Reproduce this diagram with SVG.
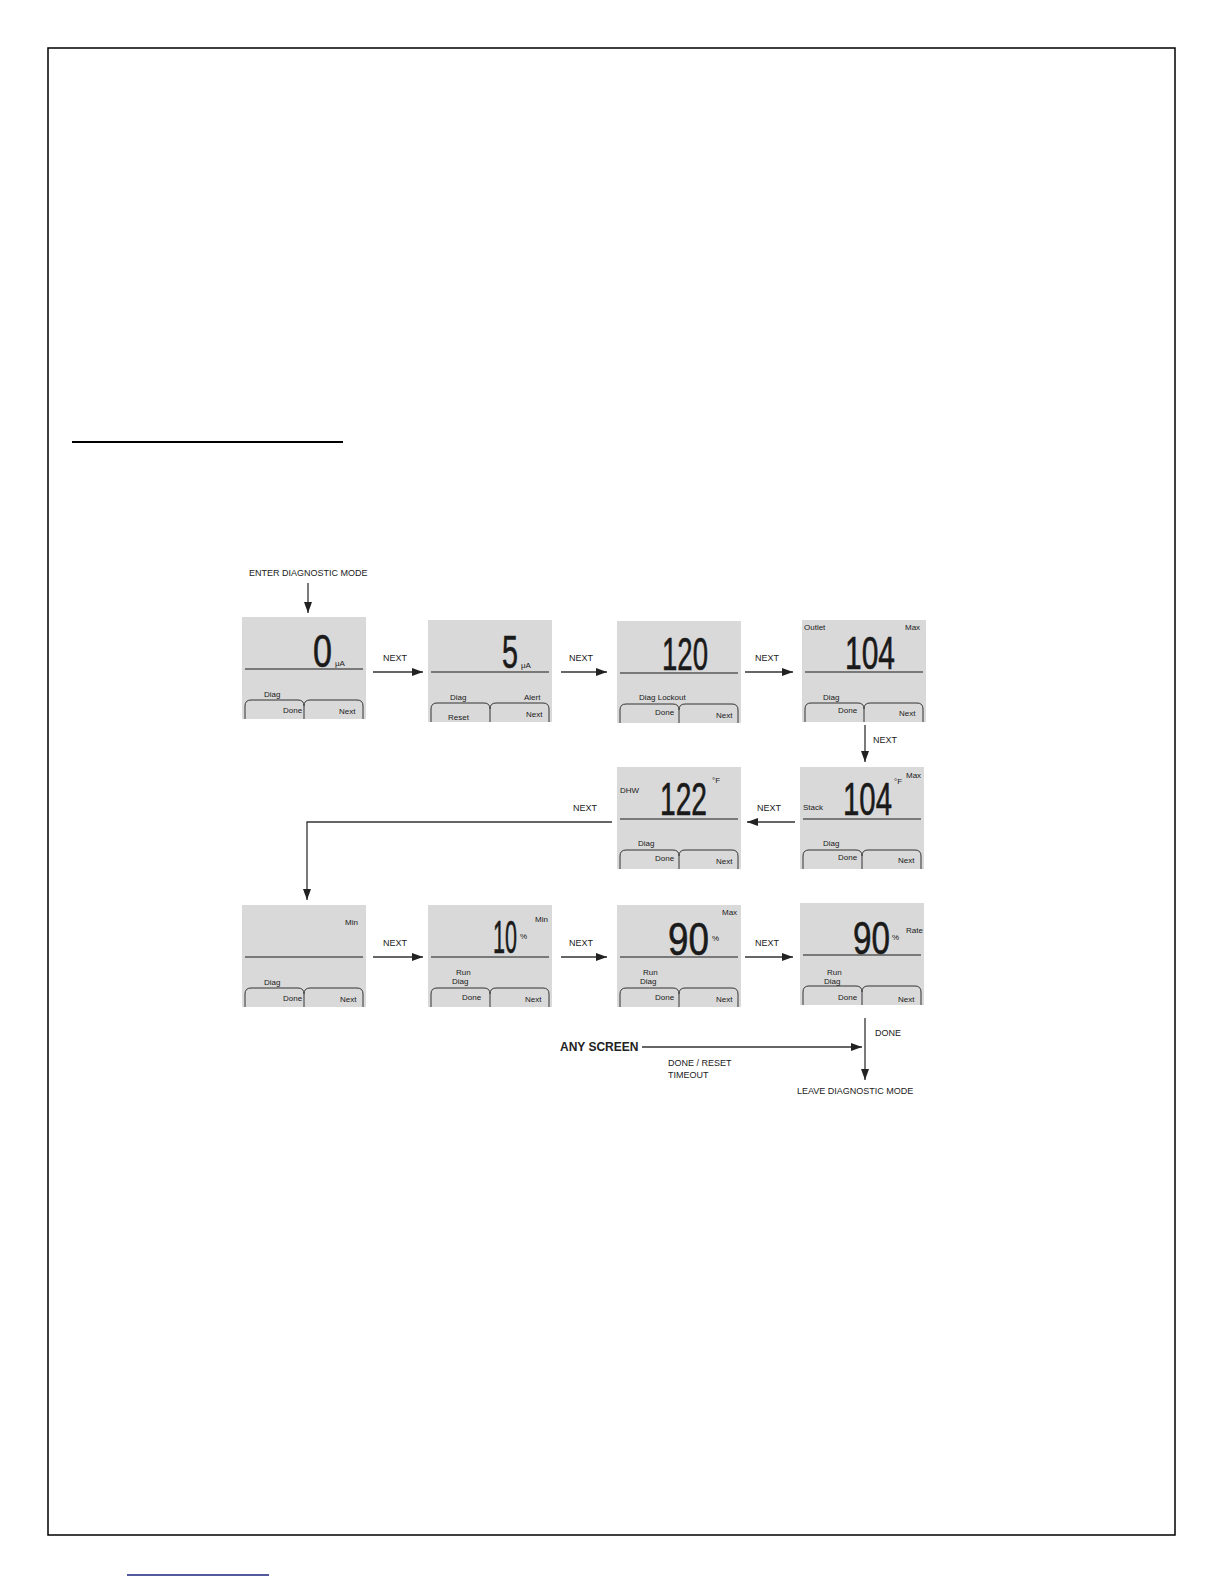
<svg xmlns="http://www.w3.org/2000/svg" xmlns:xlink="http://www.w3.org/1999/xlink" width="1224" height="1584" viewBox="0 0 1224 1584">
<style>
.bg{fill:#d9d9d9;stroke:none}
.sep{stroke:#1a1a1a;stroke-width:1.2;fill:none}
.btn{stroke:#333;stroke-width:1;fill:none}
.lbl{font-family:"Liberation Sans Narrow","Liberation Sans",Arial,sans-serif;font-size:8px;fill:#1a1a1a}
.dig{font-family:"Liberation Sans",Arial,sans-serif;font-size:46px;fill:#1a1a1a;stroke:#1a1a1a;stroke-width:0.6}
.nx{font-family:"Liberation Sans",Arial,sans-serif;font-size:9px;fill:#222}
.big{font-family:"Liberation Sans",Arial,sans-serif;font-size:12px;font-weight:bold;fill:#222}
.con{stroke:#333;stroke-width:1.3;fill:none}
</style>
<defs>
<marker id="ah" markerUnits="userSpaceOnUse" markerWidth="12" markerHeight="10" refX="11" refY="4" orient="auto">
<path d="M0,0 L11,4 L0,8 Z" fill="#222"/>
</marker>
<g id="base">
<rect class="bg" x="0" y="0" width="124" height="102"/>
<line class="sep" x1="3" y1="52" x2="121" y2="52"/>
<path class="btn" d="M3,102 V89 Q3,83 9,83 H56 Q62,83 62,89 Q62,83 68,83 H115 Q121,83 121,89 V102 M62,89 V102"/>
</g>
</defs>

<g id="page">
<rect x="48" y="48" width="1127" height="1487" fill="none" stroke="#000" stroke-width="1.5"/>
<line x1="72" y1="442" x2="343" y2="442" stroke="#000" stroke-width="2"/>
<line x1="127" y1="1575" x2="269" y2="1575" stroke="#1a237e" stroke-width="1.5"/>
</g>

<g id="connectors">
<line class="con" x1="308" y1="583" x2="308" y2="613" marker-end="url(#ah)"/>
<line class="con" x1="373" y1="672" x2="423" y2="672" marker-end="url(#ah)"/>
<line class="con" x1="561" y1="672" x2="607" y2="672" marker-end="url(#ah)"/>
<line class="con" x1="745" y1="672" x2="793" y2="672" marker-end="url(#ah)"/>
<line class="con" x1="865" y1="725" x2="865" y2="762" marker-end="url(#ah)"/>
<line class="con" x1="795" y1="822" x2="747" y2="822" marker-end="url(#ah)"/>
<polyline class="con" points="612,822 307,822 307,900" marker-end="url(#ah)"/>
<line class="con" x1="373" y1="957" x2="423" y2="957" marker-end="url(#ah)"/>
<line class="con" x1="561" y1="957" x2="607" y2="957" marker-end="url(#ah)"/>
<line class="con" x1="745" y1="957" x2="793" y2="957" marker-end="url(#ah)"/>
<line class="con" x1="642" y1="1047" x2="862" y2="1047" marker-end="url(#ah)"/>
<line class="con" x1="865" y1="1018" x2="865" y2="1080" marker-end="url(#ah)"/>
<text class="nx" x="249" y="576">ENTER DIAGNOSTIC MODE</text>
<text class="nx" x="383" y="661">NEXT</text>
<text class="nx" x="569" y="661">NEXT</text>
<text class="nx" x="755" y="661">NEXT</text>
<text class="nx" x="873" y="743">NEXT</text>
<text class="nx" x="757" y="811">NEXT</text>
<text class="nx" x="573" y="811">NEXT</text>
<text class="nx" x="383" y="946">NEXT</text>
<text class="nx" x="569" y="946">NEXT</text>
<text class="nx" x="755" y="946">NEXT</text>
<text class="big" x="560" y="1051">ANY SCREEN</text>
<text class="nx" x="875" y="1036">DONE</text>
<text class="nx" x="668" y="1066">DONE / RESET</text>
<text class="nx" x="668" y="1078">TIMEOUT</text>
<text class="nx" x="797" y="1094">LEAVE DIAGNOSTIC MODE</text>
</g>

<g id="screen1" transform="translate(242,617)">
<use xlink:href="#base"/>
<text class="dig" x="71" y="50" textLength="19" lengthAdjust="spacingAndGlyphs">0</text>
<text class="lbl" x="93" y="49" font-size="7">μA</text>
<text class="lbl" x="22" y="80">Diag</text>
<text class="lbl" x="41" y="96">Done</text>
<text class="lbl" x="97" y="97">Next</text>
</g>

<g id="screen2" transform="translate(428,620)">
<use xlink:href="#base"/>
<text class="dig" x="74" y="48" textLength="16" lengthAdjust="spacingAndGlyphs">5</text>
<text class="lbl" x="93" y="48" font-size="7">μA</text>
<text class="lbl" x="22" y="80">Diag</text>
<text class="lbl" x="96" y="80">Alert</text>
<text class="lbl" x="20" y="100">Reset</text>
<text class="lbl" x="98" y="97">Next</text>
</g>

<g id="screen3" transform="translate(617,621)">
<use xlink:href="#base"/>
<text class="dig" x="45" y="49" textLength="46" lengthAdjust="spacingAndGlyphs">120</text>
<text class="lbl" x="22" y="79">Diag Lockout</text>
<text class="lbl" x="38" y="94">Done</text>
<text class="lbl" x="99" y="97">Next</text>
</g>

<g id="screen4" transform="translate(802,620)">
<use xlink:href="#base"/>
<text class="lbl" x="2" y="10">Outlet</text>
<text class="lbl" x="103" y="10">Max</text>
<text class="dig" x="43" y="49" textLength="50" lengthAdjust="spacingAndGlyphs">104</text>
<text class="lbl" x="21" y="80">Diag</text>
<text class="lbl" x="36" y="93">Done</text>
<text class="lbl" x="97" y="96">Next</text>
</g>

<g id="screen5" transform="translate(800,767)">
<use xlink:href="#base"/>
<text class="lbl" x="3" y="43">Stack</text>
<text class="dig" x="43" y="48" textLength="49" lengthAdjust="spacingAndGlyphs">104</text>
<text class="lbl" x="94" y="17" font-size="7">°F</text>
<text class="lbl" x="106" y="11">Max</text>
<text class="lbl" x="23" y="79">Diag</text>
<text class="lbl" x="38" y="93">Done</text>
<text class="lbl" x="98" y="96">Next</text>
</g>

<g id="screen6" transform="translate(617,767)">
<use xlink:href="#base"/>
<text class="lbl" x="3" y="26">DHW</text>
<text class="dig" x="43" y="48" textLength="47" lengthAdjust="spacingAndGlyphs">122</text>
<text class="lbl" x="95" y="16" font-size="7">°F</text>
<text class="lbl" x="21" y="79">Diag</text>
<text class="lbl" x="38" y="94">Done</text>
<text class="lbl" x="99" y="97">Next</text>
</g>

<g id="screen7" transform="translate(242,905)">
<use xlink:href="#base"/>
<text class="lbl" x="103" y="20">Min</text>
<text class="lbl" x="22" y="80">Diag</text>
<text class="lbl" x="41" y="96">Done</text>
<text class="lbl" x="98" y="97">Next</text>
</g>

<g id="screen8" transform="translate(428,905)">
<use xlink:href="#base"/>
<text class="dig" x="65" y="48" textLength="24" lengthAdjust="spacingAndGlyphs">10</text>
<text class="lbl" x="92" y="34" font-size="7">%</text>
<text class="lbl" x="107" y="17">Min</text>
<text class="lbl" x="28" y="70">Run</text>
<text class="lbl" x="24" y="79">Diag</text>
<text class="lbl" x="34" y="95">Done</text>
<text class="lbl" x="97" y="97">Next</text>
</g>

<g id="screen9" transform="translate(617,905)">
<use xlink:href="#base"/>
<text class="dig" x="51" y="50" textLength="41" lengthAdjust="spacingAndGlyphs">90</text>
<text class="lbl" x="95" y="36" font-size="7">%</text>
<text class="lbl" x="105" y="10">Max</text>
<text class="lbl" x="26" y="70">Run</text>
<text class="lbl" x="23" y="79">Diag</text>
<text class="lbl" x="38" y="95">Done</text>
<text class="lbl" x="99" y="97">Next</text>
</g>

<g id="screen10" transform="translate(800,903)">
<use xlink:href="#base"/>
<text class="dig" x="53" y="51" textLength="37" lengthAdjust="spacingAndGlyphs">90</text>
<text class="lbl" x="92" y="37" font-size="7">%</text>
<text class="lbl" x="106" y="30">Rate</text>
<text class="lbl" x="27" y="72">Run</text>
<text class="lbl" x="24" y="81">Diag</text>
<text class="lbl" x="38" y="97">Done</text>
<text class="lbl" x="98" y="99">Next</text>
</g>
</svg>
